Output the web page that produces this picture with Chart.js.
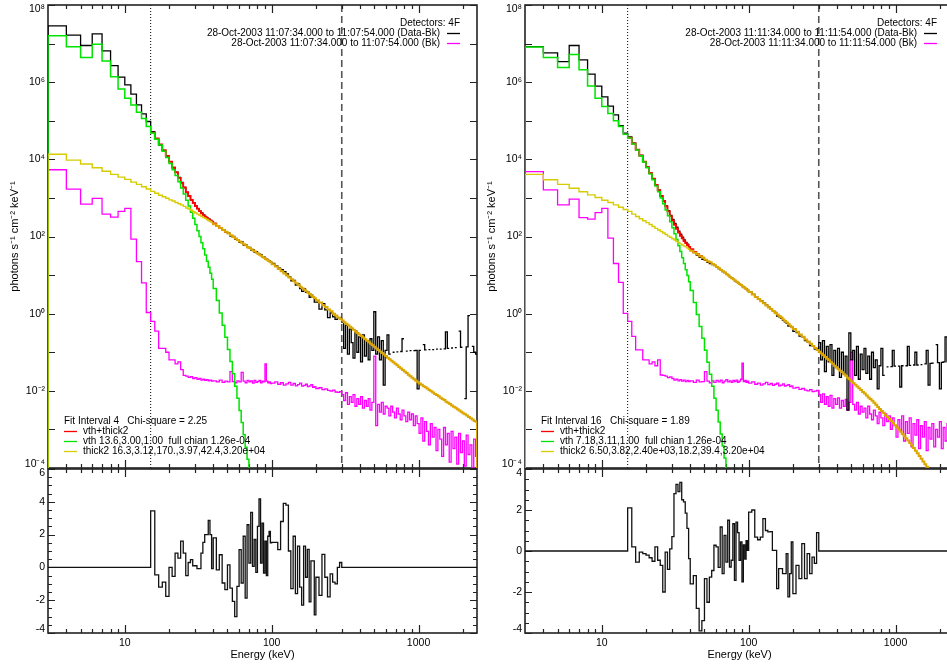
<!DOCTYPE html>
<html>
<head>
<meta charset="utf-8">
<title>RHESSI spectral fits, 28-Oct-2003</title>
<script src="https://cdn.jsdelivr.net/npm/chart.js@4.4.1/dist/chart.umd.min.js"></script>
<style>
  html, body { margin: 0; padding: 0; background: #fff; overflow: hidden; }
  #wrap { position: relative; width: 947px; height: 667px; overflow: hidden; background: #fff; }
  canvas { position: absolute; }
</style>
</head>
<body>
<div id="wrap">
  <canvas id="leftSpec" width="480" height="472" style="left:0px;top:0px;width:480px;height:472px"></canvas>
  <canvas id="leftRes" width="480" height="205" style="left:0px;top:462px;width:480px;height:205px"></canvas>
  <canvas id="rightSpec" width="480" height="472" style="left:477px;top:0px;width:480px;height:472px"></canvas>
  <canvas id="rightRes" width="480" height="205" style="left:477px;top:462px;width:480px;height:205px"></canvas>
</div>
<script>
// energy bin edges (keV), shared by both intervals
const energyEdges = [
  3, 4, 5, 6, 7, 8, 9, 10, 11, 12, 13, 14, 15, 16, 17, 18, 19, 20, 21, 22, 23, 24, 25, 26, 27, 28, 29, 30, 31, 32, 33, 34, 35, 36, 37, 38, 39, 40,
  42, 44, 46, 48, 50, 52, 54, 56, 58, 60, 62, 64, 66, 68, 70, 72, 74, 76, 78, 80, 82, 84, 86, 88, 90, 92, 94, 96, 98, 100,
  105, 110, 115, 120, 125, 130, 135, 140, 145, 150, 155, 160, 165, 170, 175, 180, 185, 190, 195, 200,
  210, 220, 230, 240, 250, 260, 270, 280, 290, 300,
  309, 318, 328, 338, 348, 358, 369, 380, 391, 403, 415, 428,
  441, 454, 467, 481, 496, 511, 526, 542, 558, 575, 592, 610,
  628, 647, 666, 686, 707, 728, 750, 772, 795, 819, 844, 869,
  895, 922, 950, 978, 1008, 1038, 1069, 1101, 1134, 1168, 1203, 1239,
  1277, 1315, 1354, 1395, 1437, 1480, 1524, 1570, 1617, 1666, 1716, 1767,
  1820, 1875, 1931, 1989, 2049, 2110, 2173, 2239, 2306, 2375, 2446, 2500
];
const N = null;

// ---- interval 4 (11:07:34-11:07:54), values are log10(photons s-1 cm-2 keV-1) per bin
const leftDataLog = [
  7.46, 7.22, 6.95, 7.25, 6.81, 6.43, 6.13, 5.93, 5.69, 5.41, 5.18, 4.98,
  4.72, 4.53, 4.37, 4.22, 4.06, 3.94, 3.78, 3.67, 3.53, 3.40, 3.27, 3.14, 3.05, 2.95, 2.87, 2.79, 2.72, 2.66, 2.61, 2.56, 2.52, 2.48, 2.45, 2.42, 2.39,
  2.34, 2.28, 2.21, 2.18, 2.11, 2.09, 2.01, 2.00, 1.93, 1.92, 1.85, 1.86, 1.78, 1.79, 1.71, 1.72, 1.65, 1.66, 1.59, 1.61, 1.56, 1.54, 1.53, 1.46, 1.47, 1.43, 1.41, 1.38, 1.37, 1.34,
  1.30, 1.24, 1.18, 1.14, 1.09, 1.03, 0.95, 0.85, 0.86, 0.74, 0.77, 0.65, 0.58, 0.64, 0.55, 0.56, 0.42, 0.48, 0.44, 0.30,
  0.30, 0.12, 0.26, 0.10, -0.10, 0.02, -0.08, -0.15, -0.10, -0.12,
  -0.22, -0.90, -0.30, -1.05, -0.40, -0.75, -1.15, -0.45, -1.00, -0.60, -1.25, -0.55,
  -1.10, -0.70, -1.20, -0.65, -0.95, 0.05, -1.05, -0.60, -1.20, -0.70, -1.85, -0.95,
  -0.55, -1.05, N, -1.00, N, -0.99, N, -0.98, -0.65, N, -0.97, N,
  -0.96, N, -0.96, -0.95, -1.95, -0.95, N, -0.80, -0.94, N, -0.93, N,
  -0.93, N, -0.92, N, -0.92, N, -0.91, -0.47, -0.90, N, -0.89, N,
  -0.88, N, -0.45, -0.87, N, -2.20, -0.86, -0.05, N, -0.85, -1.00, -1.05
];
const leftBkLog = [
  3.73, 3.23, 2.84, 2.99, 2.58, 2.50, 2.65, 2.73, 1.93, 1.35, 0.80, 0.03,
  -0.20, -0.45, -0.90, -0.90, -1.00, -1.20, -1.20, -1.30, -1.25, -1.45, -1.60, -1.62, -1.65, -1.63, -1.68, -1.66, -1.70, -1.68, -1.72, -1.70, -1.73, -1.71, -1.74, -1.72, -1.75,
  -1.74, -1.77, -1.72, -1.78, -1.75, -1.77, -1.50, -1.76, -1.79, -1.74, -1.77, -1.52, -1.75, -1.79, -1.73, -1.77, -1.74, -1.80, -1.73, -1.78, -1.76, -1.73, -1.79, -1.75, -1.77, -1.30, -1.75, -1.79, -1.77, -1.81,
  -1.80, -1.77, -1.83, -1.79, -1.85, -1.82, -1.78, -1.85, -1.81, -1.87, -1.84, -1.80, -1.88, -1.86, -1.83, -1.89, -1.87, -1.84, -1.91, -1.89,
  -1.94, -1.92, -1.97, -1.95, -1.99, -2.01, -1.98, -2.03, -2.04, -2.02,
  -2.10, -2.25, -2.05, -2.35, -2.15, -2.30, -2.10, -2.40, -2.20, -2.35, -2.15, -2.45,
  -2.25, -2.40, -2.20, -2.50, -2.30, -1.10, -2.90, -2.35, -2.55, -2.30, -2.60, -2.40,
  -2.45, -2.65, -2.40, -2.55, -2.70, -2.45, -2.60, -2.75, -2.50, -2.65, -2.80, -2.55,
  -2.75, -2.60, -2.90, -2.65, -2.85, -3.10, -2.70, -3.30, -2.80, -3.05, -3.40, -2.85,
  -3.20, -2.95, -3.55, -3.00, -3.25, -3.70, -2.95, -3.40, -3.10, -3.85, -3.05, -3.50,
  -3.20, -3.90, -3.10, -3.60, -3.30, -3.95, -3.15, -3.65, -3.40, -4.00, -3.25, -3.70
];
const leftVthLog = [
  7.20, 6.92, 6.64, 6.98, 6.55, 6.14, 5.82, 5.58, 5.41, 5.22, 5.06, 4.85,
  4.68, 4.52, 4.37, 4.21, 4.05, 3.89, 3.73, 3.58, 3.42, 3.26, 3.10, 2.94, 2.79, 2.63, 2.47, 2.31, 2.15, 2.00, 1.84, 1.68, 1.52, 1.36, 1.20, 1.05, 0.89,
  0.65, 0.34, 0.02, -0.30, -0.61, -0.93, -1.24, -1.56, -1.88, -2.19, -2.51, -2.82, -3.14, -3.46, -3.77, -4.09, -4.40
];
const leftSumLog = [
  N, N, N, N, N, N, N, N, N, N, N, N,
  4.69, 4.54, 4.39, 4.24, 4.09, 3.94, 3.79, 3.66, 3.52, 3.39, 3.27, 3.15, 3.05, 2.95, 2.87, 2.79, 2.72, 2.66, 2.60, 2.55, 2.51, 2.47, 2.44, 2.41, 2.38,
  2.33, 2.27, 2.22, 2.17, 2.12
];
const leftThickLog = [
  4.13, 3.98, 3.88, 3.78, 3.69, 3.61, 3.54, 3.48, 3.41, 3.35, 3.29, 3.23,
  3.17, 3.12, 3.07, 3.03, 2.99, 2.95, 2.92, 2.88, 2.85, 2.82, 2.78, 2.74, 2.71, 2.68, 2.64, 2.61, 2.58, 2.55, 2.52, 2.49, 2.47, 2.44, 2.41, 2.39, 2.36,
  2.32, 2.27, 2.22, 2.17, 2.12, 2.08, 2.03, 1.99, 1.95, 1.91, 1.87, 1.84, 1.80, 1.77, 1.73, 1.70, 1.67, 1.64, 1.61, 1.58, 1.55, 1.53, 1.50, 1.47, 1.45, 1.42, 1.40, 1.37, 1.35, 1.33,
  1.28, 1.22, 1.16, 1.10, 1.04, 0.99, 0.94, 0.89, 0.84, 0.79, 0.75, 0.70, 0.66, 0.62, 0.58, 0.54, 0.51, 0.47, 0.43, 0.40,
  0.35, 0.29, 0.22, 0.17, 0.11, 0.06, 0.00, -0.05, -0.10, -0.14,
  -0.18, -0.22, -0.26, -0.30, -0.34, -0.38, -0.42, -0.46, -0.50, -0.54, -0.58, -0.62,
  -0.66, -0.70, -0.74, -0.78, -0.82, -0.86, -0.90, -0.94, -0.98, -1.02, -1.06, -1.10,
  -1.14, -1.18, -1.22, -1.26, -1.30, -1.34, -1.38, -1.42, -1.46, -1.50, -1.54, -1.58,
  -1.62, -1.66, -1.70, -1.74, -1.78, -1.81, -1.84, -1.88, -1.91, -1.94, -1.98, -2.01,
  -2.04, -2.08, -2.11, -2.14, -2.18, -2.21, -2.24, -2.28, -2.31, -2.34, -2.38, -2.41,
  -2.44, -2.48, -2.51, -2.54, -2.58, -2.61, -2.64, -2.68, -2.71, -2.74, -2.78, -2.80
];
const leftResid = [
  0, 0, 0, 0, 0, 0, 0, 0, 0, 0, 0, 0,
  3.45, -0.45, -1.2, -0.9, -1.77, 0, -0.55, 0.87, 0.57, 1.6, 0.87, -0.5, 0.3, 0.47, 0.1, 0.1, -0.08, -0.08, 0.87, 1.52, 2.0, 2.0, 2.87, 2.0, -0.08,
  1.8, -0.15, 0.77, -0.95, -1.36, 0.16, -1.26, -2.07, -3.0, -1.16, 1.08, -0.95, 1.9, -1.87, 2.6, 0.26, 3.35, 0.06, 1.7, -0.3, 2.5, 4.17, 0.26, 2.7, -0.35, 1.6, -0.5, 1.9, 2.2, 1.5,
  1.52, 1.52, 1.08, 2.8, 3.9, 3.8, 1.0, -1.3, 1.9, -1.6, 1.3, -1.2, -2.3, 1.3, -0.6, 1.1, -2.1, 0.4, 0.4, -2.9,
  -0.6, -1.7, 0.8, -0.6, -1.8, -0.4, -0.9, -1.0, 0.0, 0.3,
  0, 0, 0, 0, 0, 0, 0, 0, 0, 0, 0, 0,
  0, 0, 0, 0, 0, 0, 0, 0, 0, 0, 0, 0,
  0, 0, 0, 0, 0, 0, 0, 0, 0, 0, 0, 0,
  0, 0, 0, 0, 0, 0, 0, 0, 0, 0, 0, 0,
  0, 0, 0, 0, 0, 0, 0, 0, 0, 0, 0, 0,
  0, 0, 0, 0, 0, 0, 0, 0, 0, 0, 0, 0
];

// ---- interval 16 (11:11:34-11:11:54)
const rightDataLog = [
  6.92, 6.76, 6.53, 6.95, 6.58, 6.21, 5.90, 5.62, 5.38, 5.15, 4.87, 4.68,
  4.58, 4.42, 4.25, 4.10, 3.94, 3.80, 3.64, 3.50, 3.34, 3.20, 3.05, 2.92, 2.79, 2.67, 2.55, 2.44, 2.34, 2.24, 2.14, 2.06, 1.98, 1.91, 1.85, 1.80, 1.74,
  1.66, 1.59, 1.52, 1.46, 1.41, 1.38, 1.33, 1.30, 1.27, 1.25, 1.21, 1.17, 1.14, 1.09, 1.07, 1.02, 0.99, 0.95, 0.92, 0.89, 0.85, 0.83, 0.80, 0.76, 0.74, 0.70, 0.69, 0.65, 0.64, 0.60,
  0.57, 0.50, 0.44, 0.38, 0.33, 0.28, 0.22, 0.17, 0.12, 0.07, 0.03, -0.06, -0.08, -0.12, -0.17, -0.21, -0.25, -0.32, -0.33, -0.35,
  -0.46, -0.49, -0.58, -0.60, -0.70, -0.73, -0.83, -0.84, -0.92, -0.91,
  -0.75, -1.20, -0.70, -1.50, -0.85, -1.25, -0.80, -1.60, -0.95, -1.40, -0.90, -1.65,
  -1.00, -1.55, -1.10, -2.50, -0.50, -1.20, -0.95, -1.60, -0.85, -1.70, -1.05, -1.45,
  -0.90, -1.55, -1.10, -1.70, -1.00, -1.40, -1.20, -1.95, -1.35, -0.90, -1.60, N,
  -1.38, N, -1.37, -0.95, -1.36, N, -1.36, -1.90, -1.35, N, -1.35, -0.85,
  -1.34, N, -1.33, -1.00, -1.33, N, -1.32, N, -1.30, -0.95, -1.85, -1.29,
  -1.28, N, -0.80, -1.27, -1.95, -1.26, -1.25, -0.60, -1.25, -1.50, -1.24, -1.27
];
const rightBkLog = [
  3.68, 3.21, 2.82, 2.97, 2.49, 2.45, 2.62, 2.73, 1.96, 1.30, 0.81, 0.01,
  -0.20, -0.59, -0.94, -0.94, -1.20, -1.20, -1.30, -1.25, -1.35, -1.20, -1.59, -1.60, -1.62, -1.66, -1.64, -1.68, -1.72, -1.70, -1.74, -1.71, -1.75, -1.72, -1.76, -1.73, -1.76,
  -1.74, -1.78, -1.72, -1.77, -1.76, -1.50, -1.75, -1.79, -1.74, -1.78, -1.73, -1.77, -1.72, -1.79, -1.75, -1.71, -1.77, -1.74, -1.78, -1.73, -1.76, -1.72, -1.78, -1.75, -1.70, -1.28, -1.76, -1.73, -1.78, -1.75,
  -1.80, -1.77, -1.83, -1.80, -1.85, -1.82, -1.78, -1.84, -1.81, -1.86, -1.83, -1.80, -1.87, -1.85, -1.82, -1.88, -1.86, -1.84, -1.89, -1.87,
  -1.93, -1.91, -1.96, -1.94, -1.98, -2.00, -1.97, -2.02, -2.01, -1.99,
  -2.10, -2.30, -2.08, -2.35, -2.15, -2.40, -2.12, -2.45, -2.20, -2.35, -2.18, -2.45,
  -2.25, -2.40, -2.22, -2.50, -2.30, -1.00, -2.35, -2.50, -2.30, -2.60, -2.40, -2.55,
  -2.45, -2.70, -2.40, -2.60, -2.75, -2.50, -2.65, -2.85, -2.55, -2.70, -2.90, -2.60,
  -2.80, -2.65, -3.00, -2.70, -2.90, -3.20, -2.75, -3.05, -2.65, -3.30, -2.80, -3.10,
  -2.70, -3.45, -2.85, -3.15, -2.75, -3.50, -2.90, -3.20, -2.80, -3.55, -2.95, -3.25,
  -2.85, -3.45, -3.00, -3.20, -2.80, -3.50, -2.95, -3.30, -2.85, -3.40, -3.00, -3.20
];
const rightVthLog = [
  6.91, 6.64, 6.38, 6.72, 6.32, 5.90, 5.58, 5.37, 5.19, 5.00, 4.85, 4.65,
  4.55, 4.40, 4.24, 4.09, 3.93, 3.78, 3.62, 3.47, 3.31, 3.16, 3.00, 2.85, 2.69, 2.54, 2.38, 2.23, 2.07, 1.92, 1.76, 1.61, 1.45, 1.30, 1.14, 0.99, 0.83,
  0.60, 0.29, -0.02, -0.33, -0.64, -0.95, -1.26, -1.57, -1.88, -2.19, -2.50, -2.81, -3.12, -3.43, -3.74, -4.05, -4.36
];
const rightSumLog = [
  N, N, N, N, N, N, N, N, N, N, N, N,
  4.56, 4.41, 4.25, 4.10, 3.94, 3.80, 3.64, 3.50, 3.34, 3.20, 3.05, 2.92, 2.78, 2.65, 2.53, 2.41, 2.30, 2.20, 2.10, 2.02, 1.95, 1.88, 1.83, 1.78, 1.73,
  1.67, 1.60, 1.55, 1.50, 1.45
];
const rightThickLog = [
  3.61, 3.47, 3.35, 3.25, 3.16, 3.08, 3.01, 2.94, 2.88, 2.82, 2.76, 2.70,
  2.65, 2.58, 2.52, 2.46, 2.41, 2.36, 2.31, 2.26, 2.21, 2.17, 2.13, 2.09, 2.05, 2.01, 1.98, 1.94, 1.91, 1.87, 1.84, 1.81, 1.78, 1.75, 1.73, 1.70, 1.67,
  1.63, 1.58, 1.54, 1.49, 1.45, 1.40, 1.36, 1.33, 1.29, 1.25, 1.21, 1.17, 1.13, 1.10, 1.06, 1.02, 0.99, 0.95, 0.92, 0.89, 0.86, 0.83, 0.80, 0.77, 0.74, 0.71, 0.68, 0.66, 0.63, 0.60,
  0.56, 0.50, 0.43, 0.38, 0.32, 0.27, 0.21, 0.16, 0.12, 0.07, 0.02, -0.02, -0.06, -0.10, -0.15, -0.19, -0.23, -0.27, -0.31, -0.35,
  -0.40, -0.47, -0.54, -0.60, -0.67, -0.72, -0.78, -0.84, -0.89, -0.94,
  -0.99, -1.03, -1.08, -1.12, -1.17, -1.21, -1.26, -1.30, -1.35, -1.39, -1.44, -1.48,
  -1.52, -1.57, -1.61, -1.66, -1.70, -1.75, -1.80, -1.84, -1.89, -1.93, -1.98, -2.03,
  -2.07, -2.12, -2.17, -2.21, -2.26, -2.31, -2.36, -2.42, -2.47, -2.52, -2.57, -2.63,
  -2.68, -2.73, -2.78, -2.84, -2.89, -2.95, -3.00, -3.06, -3.12, -3.18, -3.23, -3.29,
  -3.35, -3.41, -3.48, -3.55, -3.62, -3.69, -3.76, -3.83, -3.90, -3.97, -4.04, -4.11,
  -4.19, -4.27, -4.36, -4.44, -4.52, -4.61, -4.69, -4.77, -4.86, -4.94, -5.02, -5.08
];
const rightResid = [
  0, 0, 0, 0, 0, 0, 0, 0, 0, 0, 0, 0,
  2.1, 0.2, -0.54, -0.05, -0.13, -0.2, -0.33, -0.5, 0.2, -0.45, -0.7, -2.0, -0.05, -0.9, 0.1, 0.7, 2.8, 3.25, 2.9, 3.35, 2.5, 2.4, 1.85, 1.1, -0.37,
  -1.6, -1.2, -2.8, -3.9, -3.4, -1.35, -2.5, -1.27, -0.95, 0.28, 0.2, -0.8, 1.17, -1.1, 0.76, -0.54, 1.5, -0.78, -0.45, 1.33, -1.43, 1.41, 0.9, -0.45, 0.44, -1.5, 0.3, -0.4, 0.5, 0.03,
  1.9, 2.0, 0.68, 0.55, 0.68, 1.58, 1.0, 0.93, 0.95, 0.03, 0.03, -1.84, -0.86, -0.86, -1.1, -1.1, -0.13, -2.24, -1.1, 0.44,
  -2.08, -0.7, -1.35, 0.36, -1.35, -0.13, -1.1, -0.3, -0.6, 0.9,
  0, 0, 0, 0, 0, 0, 0, 0, 0, 0, 0, 0,
  0, 0, 0, 0, 0, 0, 0, 0, 0, 0, 0, 0,
  0, 0, 0, 0, 0, 0, 0, 0, 0, 0, 0, 0,
  0, 0, 0, 0, 0, 0, 0, 0, 0, 0, 0, 0,
  0, 0, 0, 0, 0, 0, 0, 0, 0, 0, 0, 0,
  0, 0, 0, 0, 0, 0, 0, 0, 0, 0, 0, 0
];

// ---- axes, ticks and labels
const energyRange = [3, 2500];
const fluxRange = [1e-4, 1e8];
const fluxLabelTicks = [1e8, 1e6, 1e4, 1e2, 1, 1e-2, 1e-4];
const fluxDecadeTicks = [1e8, 1e7, 1e6, 1e5, 1e4, 1e3, 1e2, 10, 1, 0.1, 1e-2, 1e-3, 1e-4];
const energyMajorTicks = [10, 100, 1000];
const energyMinorTicks = [4, 5, 6, 7, 8, 9, 20, 30, 40, 50, 60, 70, 80, 90, 200, 300, 400, 500, 600, 700, 800, 900, 2000];
const leftResRange = [-4, 6];
const leftResTicks = [-4, -2, 0, 2, 4, 6];
const leftResMinor = [-3.5, -3, -2.5, -1.5, -1, -0.5, 0.5, 1, 1.5, 2.5, 3, 3.5, 4.5, 5, 5.5];
const rightResRange = [-4, 4];
const rightResTicks = [-4, -2, 0, 2, 4];
const rightResMinor = [-3.5, -3, -2.5, -1.5, -1, -0.5, 0.5, 1, 1.5, 2.5, 3, 3.5];
const fitRangeLines = [15, 300];   // keV, dotted and dashed markers

const detectorLabel = 'Detectors: 4F';
const leftTimeLabels = ['28-Oct-2003 11:07:34.000 to 11:07:54.000 (Data-Bk)', '28-Oct-2003 11:07:34.000 to 11:07:54.000 (Bk)'];
const rightTimeLabels = ['28-Oct-2003 11:11:34.000 to 11:11:54.000 (Data-Bk)', '28-Oct-2003 11:11:34.000 to 11:11:54.000 (Bk)'];
const leftFitLabels = ['Fit Interval 4   Chi-square = 2.25', 'vth+thick2', 'vth 13.6,3.00,1.00  full chian 1.26e-04', 'thick2 16.3,3.12,170.,3.97,42.4,3.20e+04'];
const rightFitLabels = ['Fit Interval 16   Chi-square = 1.89', 'vth+thick2', 'vth 7.18,3.11,1.00  full chian 1.26e-04', 'thick2 6.50,3.82,2.40e+03,18.2,39.4,3.20e+04'];

const COL = { data: '#000000', bk: '#ff00ff', vth: '#00e400', thick: '#d6cc00', thickHi: '#dca600', sum: '#ff0000', frame: '#222222' };
const FONT = "'Liberation Sans', Arial, Helvetica, sans-serif";
Chart.defaults.font.family = FONT;
Chart.defaults.color = '#000';

const SUP = { '-': '\u207b', '0': '\u2070', '1': '\u00b9', '2': '\u00b2', '3': '\u00b3', '4': '\u2074', '5': '\u2075', '6': '\u2076', '7': '\u2077', '8': '\u2078', '9': '\u2079' };
const sup = s => String(s).split('').map(c => SUP[c] || c).join('');

// bins -> corner points so gaps (negative counts) stay open
function histogram(vals, isLog, lead, trail) {
  const pts = [];
  const floor = 1e-8;
  if (lead) pts.push({ x: energyEdges[0], y: floor });
  vals.forEach((v, i) => {
    if (v === null || v === undefined) { pts.push({ x: energyEdges[i], y: null }); return; }
    const y = isLog ? Math.pow(10, v) : v;
    pts.push({ x: energyEdges[i], y: y }, { x: energyEdges[i + 1], y: y });
  });
  if (trail) pts.push({ x: energyEdges[vals.length], y: floor });
  return pts;
}

const framePlugin = {
  id: 'frame',
  beforeDatasetsDraw(chart, args, o) {
    const { ctx, chartArea: a, scales } = chart;
    const x = scales.x, y = scales.y;
    ctx.save();
    (o.markers || []).forEach(m => {
      const px = x.getPixelForValue(m.value);
      ctx.beginPath();
      ctx.setLineDash(m.dash);
      ctx.lineWidth = m.width;
      ctx.strokeStyle = m.color;
      ctx.moveTo(px, a.top);
      ctx.lineTo(px, a.bottom);
      ctx.stroke();
    });
    ctx.setLineDash([]);
    ctx.strokeStyle = COL.frame;
    ctx.lineWidth = 1.6;
    ctx.strokeRect(a.left, a.top, a.right - a.left, a.bottom - a.top);
    ctx.lineWidth = 1.2;
    ctx.beginPath();
    const xt = (vals, len) => vals.forEach(v => {
      const px = Math.round(x.getPixelForValue(v)) + 0.5;
      ctx.moveTo(px, a.bottom); ctx.lineTo(px, a.bottom - len);
      ctx.moveTo(px, a.top); ctx.lineTo(px, a.top + len);
    });
    const yt = (vals, len) => vals.forEach(v => {
      const py = Math.round(y.getPixelForValue(v)) + 0.5;
      ctx.moveTo(a.left, py); ctx.lineTo(a.left + len, py);
      ctx.moveTo(a.right, py); ctx.lineTo(a.right - len, py);
    });
    xt(o.xMajor || [], 8);
    xt(o.xMinor || [], 4);
    yt(o.yMajor || [], 7);
    yt(o.yMinor || [], 4);
    ctx.stroke();
    ctx.restore();
  }
};

const notesPlugin = {
  id: 'notes',
  afterDraw(chart, args, o) {
    if (!o.fit) return;
    const { ctx, chartArea: a } = chart;
    ctx.save();
    ctx.font = '10px ' + FONT;
    ctx.fillStyle = '#000';
    ctx.textBaseline = 'middle';
    ctx.lineWidth = 1.3;
    // top right block
    ctx.textAlign = 'right';
    ctx.fillText(detectorLabel, a.right - 17, a.top + 18);
    o.times.forEach((t, i) => {
      const ty = a.top + 28 + 10 * i;
      ctx.fillText(t, a.right - 37, ty);
      ctx.strokeStyle = [COL.data, COL.bk][i];
      ctx.beginPath(); ctx.moveTo(a.right - 30, ty + 0.5); ctx.lineTo(a.right - 17, ty + 0.5); ctx.stroke();
    });
    // bottom left block
    ctx.textAlign = 'left';
    const by = a.bottom - 47;
    ctx.fillText(o.fit[0], a.left + 16, by);
    [COL.sum, COL.vth, COL.thick].forEach((c, i) => {
      const ty = by + 10 * (i + 1);
      ctx.strokeStyle = c;
      ctx.beginPath(); ctx.moveTo(a.left + 16, ty + 0.5); ctx.lineTo(a.left + 29, ty + 0.5); ctx.stroke();
      ctx.fillText(o.fit[i + 1], a.left + 35, ty);
    });
    ctx.restore();
  }
};

function line(data, color, width, extra) {
  return Object.assign({ data: data, borderColor: color, borderWidth: width, pointRadius: 0, fill: false, tension: 0, spanGaps: false }, extra || {});
}

function specChart(id, s, times, fit) {
  return new Chart(document.getElementById(id), {
    type: 'line',
    data: {
      datasets: [
        line(histogram(s.thick, true, true, true), COL.thick, 1.4, {
          segment: {
            borderColor: c => (c.p0.parsed.x >= 40 ? COL.thickHi : undefined),
            borderWidth: c => (c.p0.parsed.x >= 40 ? 2 : undefined)
          }
        }),
        line(histogram(s.vth, true, true, false), COL.vth, 1.5),
        line(histogram(s.sum, true, false, false), COL.sum, 1.8),
        line(histogram(s.data, true, true, false), COL.data, 1.3),
        line(histogram(s.bk, true, true, false), COL.bk, 1.3)
      ]
    },
    options: {
      responsive: false, animation: false, events: [],
      layout: { padding: { left: 0, top: 5, right: 3, bottom: 4 } },
      plugins: {
        legend: { display: false }, tooltip: { enabled: false },
        frame: {
          xMajor: energyMajorTicks, xMinor: energyMinorTicks, yMajor: fluxDecadeTicks,
          markers: [
            { value: fitRangeLines[0], dash: [1, 2], width: 1, color: '#000' },
            { value: fitRangeLines[1], dash: [7, 4], width: 1.6, color: '#555' }
          ]
        },
        notes: { times: times, fit: fit }
      },
      scales: {
        x: { type: 'logarithmic', min: energyRange[0], max: energyRange[1], display: false },
        y: {
          type: 'logarithmic', min: fluxRange[0], max: fluxRange[1],
          grid: { display: false, drawTicks: false }, border: { display: false },
          afterBuildTicks: sc => { sc.ticks = fluxLabelTicks.map(v => ({ value: v })); },
          afterFit: sc => { sc.width = 48; sc.paddingTop = 0; sc.paddingBottom = 0; },
          ticks: {
            padding: 3, color: '#000', font: { size: 10.5, lineHeight: 0.75 },
            callback: v => {
              const t = '10' + sup(Math.round(Math.log10(v)));
              if (v >= fluxRange[1]) return ['', t];
              if (v <= fluxRange[0]) return [t, ''];
              return t;
            }
          },
          title: { display: true, text: 'photons s\u207b\u00b9 cm\u207b\u00b2 keV\u207b\u00b9', color: '#000', font: { size: 11 }, padding: { top: 8, bottom: 0 } }
        }
      }
    },
    plugins: [framePlugin, notesPlugin]
  });
}

function residChart(id, resid, range, ticks, minor) {
  return new Chart(document.getElementById(id), {
    type: 'line',
    data: { datasets: [line(histogram(resid, false, false, false), '#111', 1.3)] },
    options: {
      responsive: false, animation: false, events: [],
      layout: { padding: { left: 0, top: 7, right: 3, bottom: 0 } },
      plugins: {
        legend: { display: false }, tooltip: { enabled: false },
        frame: { xMajor: energyMajorTicks, xMinor: energyMinorTicks, yMajor: ticks, yMinor: minor }
      },
      scales: {
        x: {
          type: 'logarithmic', min: energyRange[0], max: energyRange[1],
          grid: { display: false, drawTicks: false }, border: { display: false },
          afterBuildTicks: sc => { sc.ticks = energyMajorTicks.map(v => ({ value: v })); },
          afterFit: sc => { sc.height = 34; sc.paddingLeft = 0; sc.paddingRight = 0; },
          ticks: { padding: 4, color: '#000', font: { size: 10.5 }, maxRotation: 0, autoSkip: false, callback: v => String(v) },
          title: { display: true, text: 'Energy (keV)', color: '#000', font: { size: 11 }, padding: { top: 0, bottom: 5 } }
        },
        y: {
          type: 'linear', min: range[0], max: range[1],
          grid: { display: false, drawTicks: false }, border: { display: false },
          afterBuildTicks: sc => { sc.ticks = ticks.map(v => ({ value: v })); },
          afterFit: sc => { sc.width = 48; sc.paddingTop = 0; sc.paddingBottom = 0; },
          ticks: {
            padding: 3, color: '#000', font: { size: 10.5, lineHeight: 0.75 },
            callback: v => {
              if (v >= range[1]) return ['', String(v)];
              if (v <= range[0]) return [String(v), ''];
              return String(v);
            }
          }
        }
      }
    },
    plugins: [framePlugin]
  });
}

specChart('leftSpec', { data: leftDataLog, bk: leftBkLog, vth: leftVthLog, sum: leftSumLog, thick: leftThickLog }, leftTimeLabels, leftFitLabels);
residChart('leftRes', leftResid, leftResRange, leftResTicks, leftResMinor);
specChart('rightSpec', { data: rightDataLog, bk: rightBkLog, vth: rightVthLog, sum: rightSumLog, thick: rightThickLog }, rightTimeLabels, rightFitLabels);
residChart('rightRes', rightResid, rightResRange, rightResTicks, rightResMinor);
</script>
</body>
</html>
